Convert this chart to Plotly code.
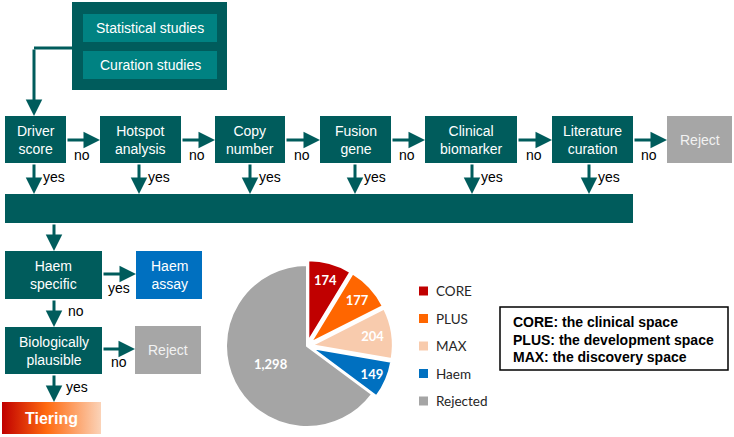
import plotly.graph_objects as go

# ---- data ----
pie_labels = ["CORE", "PLUS", "MAX", "Haem", "Rejected"]
pie_values = [174, 177, 204, 149, 1298]
pie_colors = ["#C00000", "#FF6600", "#F8CBAD", "#0070C0", "#A5A5A5"]
source_labels = ["Statistical studies", "Curation studies"]
step_labels = ["Driver<br>score", "Hotspot<br>analysis", "Copy<br>number", "Fusion<br>gene",
               "Clinical<br>biomarker", "Literature<br>curation"]
space_notes = ["CORE: the clinical space", "PLUS: the development space", "MAX: the discovery space"]

DARK = "#005C5C"
TEAL = "#008282"
GRAY = "#A6A6A6"
FONT = "Liberation Sans, Arial, sans-serif"

fig = go.Figure()
shapes = []
ann = []


def box(x0, x1, y0, y1, color, text=None, tcolor="white", size=14, bold=False):
    shapes.append(dict(type="rect", xref="x", yref="y", x0=x0, x1=x1, y0=y0, y1=y1,
                       fillcolor=color, line=dict(width=0), layer="below"))
    if text:
        t = f"<b>{text}</b>" if bold else text
        ann.append(dict(x=(x0 + x1) / 2, y=(y0 + y1) / 2, xref="x", yref="y", text=t,
                        showarrow=False, font=dict(family=FONT, size=size, color=tcolor)))


def arrow(x0, y0, x1, y1):
    ann.append(dict(x=x1, y=y1, ax=x0, ay=y0, xref="x", yref="y", axref="x", ayref="y",
                    text="", showarrow=True, arrowhead=2, arrowsize=1.1, arrowwidth=3,
                    arrowcolor=DARK, standoff=0, startstandoff=0))


def label(x, y, text):
    ann.append(dict(x=x, y=y, xref="x", yref="y", text=text, showarrow=False,
                    font=dict(family=FONT, size=14, color="black")))


# top source box
box(72, 227, 2, 90, DARK)
box(83, 217, 14, 42, TEAL, source_labels[0])
box(83, 217, 51, 79, TEAL, source_labels[1])
shapes.append(dict(type="line", xref="x", yref="y", x0=72, x1=34, y0=48, y1=48,
                   line=dict(color=DARK, width=3)))
arrow(34, 48, 34, 116)

# row of steps
step_x = [(5, 66), (100, 181), (215, 285), (320, 391), (425, 517), (552, 633)]
yes_x = [34, 139, 250, 355, 472, 589]
for i, ((a, b), lab) in enumerate(zip(step_x, step_labels)):
    box(a, b, 116, 163, DARK, lab)
    nxt = step_x[i + 1][0] if i + 1 < len(step_x) else 667
    arrow(b, 140, nxt, 140)
    label((b + nxt) / 2 - 1, 155, "no")
    arrow(yes_x[i], 163, yes_x[i], 194)
    label(yes_x[i] + 20, 177, "yes")
box(667, 732, 116, 163, GRAY, "Reject", tcolor="#F2F2F2")

# bar
box(5, 633, 194, 223, DARK)
arrow(54, 223, 54, 251)

# lower flow
box(5, 102, 251, 299, DARK, "Haem<br>specific")
box(136, 202, 251, 299, "#0070C0", "Haem<br>assay")
arrow(102, 274, 136, 274)
label(119, 288, "yes")
arrow(54, 299, 54, 327)
label(76, 311, "no")
box(5, 102, 327, 374, DARK, "Biologically<br>plausible")
box(135, 201, 326, 374, GRAY, "Reject", tcolor="#F2F2F2")
arrow(102, 349, 135, 349)
label(119, 362, "no")
arrow(54, 374, 54, 402)
label(77, 387, "yes")

# Tiering gradient box
fig.add_trace(go.Scatter(x=[2, 101, 101, 2, 2], y=[402, 402, 434, 434, 402], mode="lines",
                         fill="toself", line=dict(width=0), hoverinfo="skip", showlegend=False,
                         fillgradient=dict(type="horizontal",
                                           colorscale=[[0, "#C00000"], [0.45, "#FF6A10"],
                                                       [1, "#FBD3B8"]])))
ann.append(dict(x=51, y=418, xref="x", yref="y", text="<b>Tiering</b>", showarrow=False,
                font=dict(family=FONT, size=16, color="white")))

# pie
W, H = 734, 437
cx, cy, r, pull = 307, 346, 81, 0.06
half = r * (1 + pull)
fig.add_trace(go.Pie(labels=pie_labels, values=pie_values, sort=False, direction="clockwise",
                     rotation=0, marker=dict(colors=pie_colors, line=dict(color="white", width=2)),
                     pull=[pull, pull, pull, pull, 0], texttemplate="<b>%{value:,}</b>",
                     textposition="inside", insidetextorientation="horizontal",
                     textfont=dict(family="Lato, sans-serif", size=13, color="white"),
                     showlegend=False, hoverinfo="label+value",
                     domain=dict(x=[(cx - half) / W, (cx + half) / W],
                                 y=[(H - cy - half) / H, (H - cy + half) / H])))

# manual legend
for i, (lab, col) in enumerate(zip(pie_labels, pie_colors)):
    y = 291 + i * 27.5
    shapes.append(dict(type="rect", xref="x", yref="y", x0=419, x1=428, y0=y - 4.5, y1=y + 4.5,
                       fillcolor=col, line=dict(width=0)))
    ann.append(dict(x=434, y=y, xref="x", yref="y", text=lab, showarrow=False, xanchor="left",
                    font=dict(family="Lato, sans-serif", size=13.5, color="#262626")))

# note box
shapes.append(dict(type="rect", xref="x", yref="y", x0=500, x1=728, y0=307, y1=370,
                   line=dict(color="black", width=1.5), fillcolor="white"))
for i, t in enumerate(space_notes):
    ann.append(dict(x=511, y=322 + i * 17.5, xref="x", yref="y", text=f"<b>{t}</b>",
                    showarrow=False, xanchor="left",
                    font=dict(family=FONT, size=14, color="black")))

fig.update_layout(width=W, height=H, margin=dict(l=0, r=0, t=0, b=0),
                  paper_bgcolor="white", plot_bgcolor="white", shapes=shapes, annotations=ann,
                  xaxis=dict(range=[0, W], visible=False, domain=[0, 1], fixedrange=True),
                  yaxis=dict(range=[H, 0], visible=False, domain=[0, 1], fixedrange=True),
                  showlegend=False)
fig.write_html("out.html", config=dict(displayModeBar=False),
               post_script="document.body.style.margin='0';document.body.style.overflow='hidden';")
